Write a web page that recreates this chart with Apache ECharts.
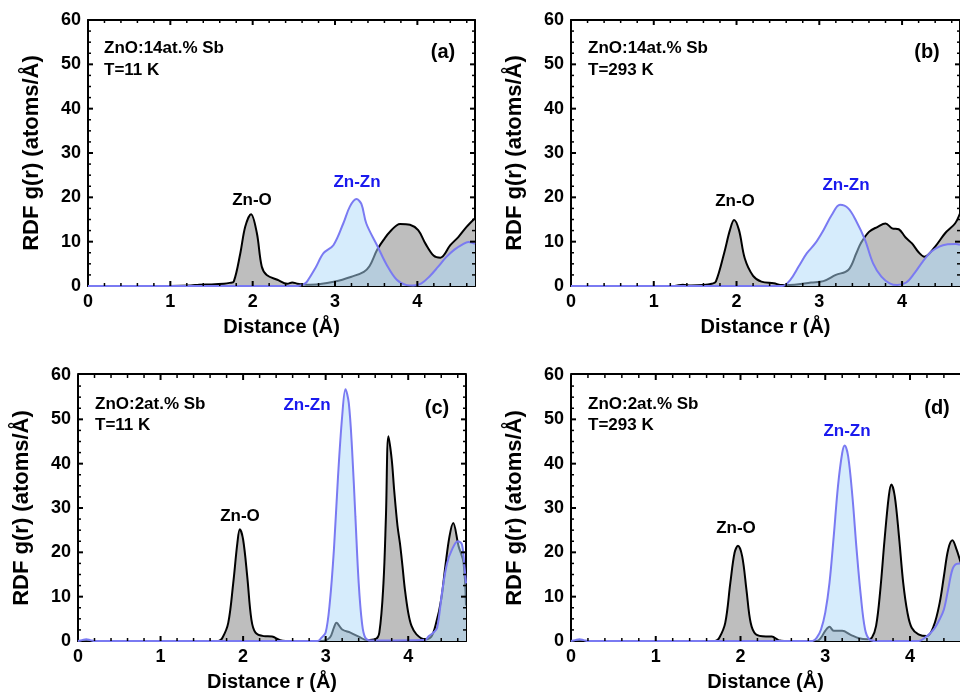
<!DOCTYPE html>
<html>
<head>
<meta charset="utf-8">
<script src="https://cdn.jsdelivr.net/npm/echarts@6/dist/echarts.min.js"></script>
<style>
  html, body { margin: 0; padding: 0; background: #fff; }
  #chart { width: 960px; height: 693px; }
</style>
</head>
<body>
<div id="chart"></div>
<script>
// Radial distribution functions g(r) around Zn in Sb-doped ZnO.
// Black/grey: total Zn-centred RDF (first shell Zn-O); blue: Zn-Zn partial.

// ---- (a) ZnO:14at.% Sb, T = 11 K ----
const aTotR = [0, 1.0, 1.25, 1.35, 1.5, 1.65, 1.72, 1.77, 1.85, 1.91, 1.98, 2.05, 2.11, 2.17, 2.3, 2.42, 2.48, 2.55, 2.65, 2.8, 3.0, 3.2, 3.35, 3.42, 3.51, 3.59, 3.67, 3.79, 3.91, 4.01, 4.1, 4.2, 4.28, 4.4, 4.5, 4.6, 4.7];
const aTotG = [0, 0, 0.1, 0.3, 0.35, 0.5, 0.7, 1.0, 7.4, 13.4, 16.2, 12.0, 4.4, 2.5, 1.4, 0.5, 0.8, 0.5, 0.3, 0.4, 1.0, 2.1, 3.2, 4.5, 8.1, 10.4, 12.3, 14.0, 13.8, 12.6, 9.5, 6.8, 6.4, 9.2, 11.1, 13.4, 15.3];
const aZnR = [0, 2.55, 2.62, 2.66, 2.76, 2.86, 2.98, 3.1, 3.18, 3.26, 3.32, 3.38, 3.51, 3.63, 3.75, 3.87, 3.95, 4.05, 4.15, 4.25, 4.35, 4.45, 4.55, 4.62, 4.7];
const aZnG = [0, 0, 0.4, 1.0, 4.0, 7.4, 9.2, 14.1, 17.9, 19.6, 18.5, 14.1, 9.2, 4.7, 1.4, 0.2, 0.1, 0.6, 2.2, 4.3, 6.5, 8.2, 9.4, 9.9, 9.5];

// ---- (b) ZnO:14at.% Sb, T = 293 K ----
const bTotR = [0, 1.25, 1.35, 1.45, 1.6, 1.7, 1.75, 1.85, 1.92, 1.97, 2.03, 2.1, 2.2, 2.3, 2.45, 2.55, 2.7, 2.9, 3.05, 3.2, 3.35, 3.45, 3.5, 3.6, 3.7, 3.8, 3.88, 3.96, 4.04, 4.12, 4.2, 4.27, 4.4, 4.52, 4.64, 4.7];
const bTotG = [0, 0, 0.3, 0.1, 0.2, 0.5, 1.0, 7.4, 12.6, 14.9, 12.6, 6.2, 2.3, 1.0, 0.6, 0.2, 0.3, 0.8, 1.1, 2.5, 3.6, 7.5, 9.6, 12.2, 13.3, 14.1, 13.0, 12.8, 11.0, 9.6, 7.6, 6.6, 8.9, 11.9, 14.1, 16.4];
const bZnR = [0, 2.55, 2.65, 2.75, 2.85, 2.95, 3.05, 3.15, 3.25, 3.35, 3.45, 3.55, 3.65, 3.75, 3.85, 3.94, 4.05, 4.15, 4.25, 4.35, 4.45, 4.55, 4.65, 4.7];
const bZnG = [0, 0, 1.4, 4.4, 7.4, 9.6, 12.6, 16.0, 18.3, 17.5, 14.5, 10.5, 5.1, 2.1, 0.6, 0.2, 0.8, 2.9, 5.5, 7.7, 8.9, 9.4, 9.5, 9.3];

// ---- (c) ZnO:2at.% Sb, T = 11 K ----
const cTotR = [0, 1.7, 1.75, 1.82, 1.88, 1.93, 1.96, 2.0, 2.05, 2.1, 2.15, 2.25, 2.35, 2.45, 2.6, 2.95, 3.05, 3.1, 3.13, 3.2, 3.3, 3.4, 3.5, 3.6, 3.65, 3.7, 3.73, 3.76, 3.8, 3.83, 3.87, 3.9, 3.93, 3.96, 4.0, 4.04, 4.1, 4.2, 4.28, 4.34, 4.4, 4.45, 4.5, 4.545, 4.61, 4.67, 4.7];
const cTotG = [0, 0, 0.75, 4.1, 13.0, 22.0, 25.2, 22.9, 14.6, 4.9, 1.9, 1.1, 1.0, 0.2, 0, 0, 0.75, 3.0, 4.1, 2.6, 1.9, 1.0, 0.2, 0.4, 1.9, 13.0, 28.0, 46.2, 41.0, 34.0, 26.0, 22.0, 17.0, 11.6, 6.4, 3.4, 1.5, 0.4, 1.0, 4.2, 9.4, 16.9, 23.6, 26.6, 21.4, 17.7, 8.0];
const cZnR = [0, 0.05, 0.1, 0.15, 0.2, 2.9, 2.95, 3.0, 3.05, 3.1, 3.15, 3.2, 3.24, 3.28, 3.32, 3.36, 3.4, 3.44, 3.48, 3.55, 4.2, 4.25, 4.3, 4.35, 4.41, 4.47, 4.53, 4.6, 4.65, 4.68, 4.7];
const cZnG = [0, 0.2, 0.4, 0.2, 0, 0, 0.75, 1.9, 8.6, 20.6, 37.2, 50.7, 56.8, 53.7, 43.2, 28.1, 13.1, 4.1, 0.75, 0.1, 0.2, 1.1, 1.8, 3.0, 11.0, 17.5, 20.6, 22.5, 21.8, 17.0, 13.0];

// ---- (d) ZnO:2at.% Sb, T = 293 K ----
const dTotR = [0, 1.7, 1.75, 1.82, 1.88, 1.93, 1.97, 2.02, 2.07, 2.12, 2.18, 2.3, 2.37, 2.45, 2.6, 2.9, 2.95, 3.0, 3.05, 3.1, 3.2, 3.3, 3.4, 3.5, 3.55, 3.6, 3.65, 3.7, 3.75, 3.78, 3.82, 3.87, 3.92, 3.97, 4.02, 4.1, 4.2, 4.28, 4.35, 4.4, 4.45, 4.5, 4.55, 4.6, 4.7];
const dTotG = [0, 0, 0.75, 4.1, 13.1, 19.9, 21.5, 19.1, 11.6, 4.1, 1.5, 1.0, 1.0, 0.2, 0, 0, 0.75, 2.3, 3.2, 2.3, 2.3, 1.4, 0.6, 0.4, 0.75, 3.4, 11.6, 22.9, 32.7, 35.3, 32.7, 23.6, 13.1, 6.4, 3.0, 1.5, 1.1, 3.4, 8.6, 14.6, 20.6, 22.7, 20.6, 17.6, 12.0];
const dZnR = [0, 0.05, 0.1, 0.15, 0.2, 2.85, 2.9, 2.95, 3.0, 3.05, 3.1, 3.15, 3.2, 3.23, 3.27, 3.32, 3.37, 3.42, 3.47, 3.52, 3.6, 4.1, 4.2, 4.28, 4.35, 4.4, 4.45, 4.5, 4.55, 4.6, 4.7];
const dZnG = [0, 0.2, 0.4, 0.2, 0, 0, 0.75, 2.6, 6.4, 13.1, 23.6, 34.9, 42.4, 44.1, 41.7, 32.7, 20.6, 10.1, 2.6, 0.4, 0, 0, 1.1, 2.6, 4.9, 7.1, 11.6, 16.1, 17.4, 17.5, 17.0];

// Axis ranges and tick steps (panel (d) is cut at the page edge)
const X_MAX = [4.7, 4.7, 4.7, 4.59];
const X_STEP = 1;
const X_MINOR_SPLIT = 5;
const Y_MAX = 60;
const Y_STEP = 10;
const Y_MINOR_SPLIT = 4;

// Panel texts
const sampleText = ['ZnO:14at.% Sb', 'ZnO:14at.% Sb', 'ZnO:2at.% Sb', 'ZnO:2at.% Sb'];
const tempText = ['T=11 K', 'T=293 K', 'T=11 K', 'T=293 K'];
const panelTag = ['(a)', '(b)', '(c)', '(d)'];
const xTitle = ['Distance (Å)', 'Distance r (Å)', 'Distance r (Å)', 'Distance (Å)'];
const yTitle = 'RDF g(r) (atoms/Å)';

const totR = [aTotR, bTotR, cTotR, dTotR];
const totG = [aTotG, bTotG, cTotG, dTotG];
const znR = [aZnR, bZnR, cZnR, dZnR];
const znG = [aZnG, bZnG, cZnG, dZnG];

// Layout (pixels)
const grids = [
  { left: 88, top: 20, width: 387, height: 266 },
  { left: 571, top: 20, width: 389, height: 266 },
  { left: 78, top: 375, width: 388, height: 267 },
  { left: 571, top: 375, width: 389, height: 267 }
];
const showRightFrame = [true, true, true, false];
// label anchor points: [sampleX, sampleY, tempY, tagX, tagY, znoX, znoY, znznX, znznY]
const labelPos = [
  [104, 48, 70, 443, 52, 252, 200, 357, 182],
  [588, 48, 70, 927, 52, 735, 201, 846, 185],
  [95, 404, 425, 437, 408, 240, 516, 307, 405],
  [588, 404, 425, 937, 408, 736, 528, 847, 431]
];

const FONT = "'Liberation Sans', Arial, sans-serif";
const MAJOR_LEN = 5, MINOR_LEN = 3, MAJOR_W = 2, MINOR_W = 1.5;

function zip(r, g) { return r.map((v, i) => [v, g[i]]); }
function lineCfg(show) { return { show: show, onZero: false, lineStyle: { color: '#000', width: 2 } }; }
// free-standing text placed with a title component
function label(x, y, text, size, color, align) {
  return {
    text: text, left: x, top: y, padding: 0,
    textAlign: align, textVerticalAlign: 'middle',
    textStyle: { color: color, fontFamily: FONT, fontWeight: 'bold', fontSize: size }
  };
}

// Inward tick marks on all four frame sides, placed through the axis scales.
function frameTicks(i) {
  return function (params, api) {
    const xMax = X_MAX[i];
    const kids = [];
    const seg = (x1, y1, x2, y2, w) => kids.push({
      type: 'line', shape: { x1: x1, y1: y1, x2: x2, y2: y2 },
      style: { stroke: '#000', lineWidth: w }
    });
    const xMinor = X_STEP / X_MINOR_SPLIT;
    for (let k = 1; k * xMinor < xMax - 1e-6; k++) {
      const v = Math.round(k * xMinor * 1000) / 1000;
      const major = k % X_MINOR_SPLIT === 0;
      const len = major ? MAJOR_LEN : MINOR_LEN;
      const w = major ? MAJOR_W : MINOR_W;
      const pb = api.coord([v, 0]);
      const pt = api.coord([v, Y_MAX]);
      seg(pb[0], pb[1], pb[0], pb[1] - len, w);
      seg(pt[0], pt[1], pt[0], pt[1] + len, w);
    }
    const yMinor = Y_STEP / Y_MINOR_SPLIT;
    for (let k = 1; k * yMinor < Y_MAX - 1e-6; k++) {
      const v = k * yMinor;
      const major = k % Y_MINOR_SPLIT === 0;
      const len = major ? MAJOR_LEN : MINOR_LEN;
      const w = major ? MAJOR_W : MINOR_W;
      const pl = api.coord([0, v]);
      seg(pl[0], pl[1], pl[0] + len, pl[1], w);
      if (showRightFrame[i]) {
        const pr = api.coord([xMax, v]);
        seg(pr[0], pr[1], pr[0] - len, pr[1], w);
      }
    }
    return { type: 'group', children: kids };
  };
}

const option = {
  animation: false,
  backgroundColor: '#fff',
  title: [],
  grid: grids.map(g => Object.assign({ containLabel: false }, g)),
  xAxis: [],
  yAxis: [],
  series: []
};

grids.forEach((g, i) => {
  const baseX = option.xAxis.length;
  const baseY = option.yAxis.length;
  const xCommon = { type: 'value', gridIndex: i, position: 'bottom', min: 0, max: X_MAX[i], interval: X_STEP };
  const yCommon = { type: 'value', gridIndex: i, position: 'left', min: 0, max: Y_MAX, interval: Y_STEP };

  // bottom frame with labels and title
  option.xAxis.push(Object.assign({}, xCommon, {
    axisLine: lineCfg(true),
    axisTick: { show: false }, minorTick: { show: false },
    splitLine: { show: false },
    axisLabel: { show: true, showMaxLabel: false, margin: 7, color: '#000', fontFamily: FONT, fontWeight: 'bold', fontSize: 18 },
    name: xTitle[i], nameLocation: 'middle', nameGap: 31,
    nameTextStyle: { color: '#000', fontFamily: FONT, fontWeight: 'bold', fontSize: 20 }
  }));
  // top frame line
  option.xAxis.push(Object.assign({}, xCommon, {
    offset: -g.height,
    axisLine: lineCfg(true), axisTick: { show: false }, minorTick: { show: false },
    splitLine: { show: false }, axisLabel: { show: false }
  }));

  // left frame with labels and title
  option.yAxis.push(Object.assign({}, yCommon, {
    axisLine: lineCfg(true),
    axisTick: { show: false }, minorTick: { show: false },
    splitLine: { show: false }, minorSplitLine: { show: false },
    axisLabel: { show: true, margin: 7, color: '#000', fontFamily: FONT, fontWeight: 'bold', fontSize: 18 },
    name: yTitle, nameLocation: 'middle', nameGap: 45, nameRotate: 90,
    nameTextStyle: { color: '#000', fontFamily: FONT, fontWeight: 'bold', fontSize: 22 }
  }));
  // right frame line
  option.yAxis.push(Object.assign({}, yCommon, {
    offset: -g.width,
    axisLine: lineCfg(showRightFrame[i]),
    axisTick: { show: false }, minorTick: { show: false },
    splitLine: { show: false }, minorSplitLine: { show: false },
    axisLabel: { show: false }
  }));

  option.series.push({
    type: 'line', name: 'Zn-O', xAxisIndex: baseX, yAxisIndex: baseY,
    data: zip(totR[i], totG[i]), smooth: 0.35, symbol: 'none', z: 2,
    lineStyle: { color: '#000', width: 2 },
    areaStyle: { color: '#bebebe', opacity: 1 }
  });
  option.series.push({
    type: 'line', name: 'Zn-Zn', xAxisIndex: baseX, yAxisIndex: baseY,
    data: zip(znR[i], znG[i]), smooth: 0.35, symbol: 'none', z: 3,
    lineStyle: { color: '#7a7af2', width: 2 },
    areaStyle: { color: 'rgba(173,217,249,0.5)', opacity: 1 }
  });
  option.series.push({
    type: 'custom', xAxisIndex: baseX, yAxisIndex: baseY,
    data: [[0, 0]], renderItem: frameTicks(i), z: 5, silent: true, clip: false
  });

  const p = labelPos[i];
  option.title.push(label(p[0], p[1], sampleText[i], 17, '#000', 'left'));
  option.title.push(label(p[0], p[2], tempText[i], 17, '#000', 'left'));
  option.title.push(label(p[3], p[4], panelTag[i], 20, '#000', 'center'));
  option.title.push(label(p[5], p[6], 'Zn-O', 17, '#000', 'center'));
  option.title.push(label(p[7], p[8], 'Zn-Zn', 17, '#1a1aee', 'center'));
});

const chart = echarts.init(document.getElementById('chart'));
chart.setOption(option);
</script>
</body>
</html>
